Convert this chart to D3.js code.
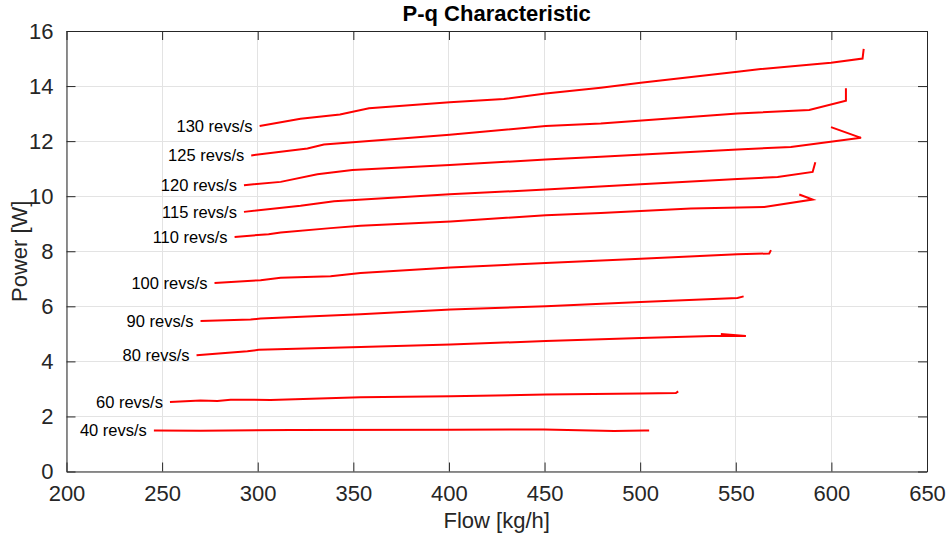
<!DOCTYPE html>
<html>
<head>
<meta charset="utf-8">
<script src="https://cdn.jsdelivr.net/npm/d3@7"></script>
<style>
html,body{margin:0;padding:0;background:#fff;}
svg{display:block;font-family:"Liberation Sans",Arial,Helvetica,sans-serif;}
</style>
</head>
<body>
<svg id="chart" width="951" height="538"></svg>
<script>
// ---- data ----
const xTicks = [200,250,300,350,400,450,500,550,600,650];
const yTicks = [0,2,4,6,8,10,12,14,16];
const seriesLabels = ["40 revs/s","60 revs/s","80 revs/s","90 revs/s","100 revs/s","110 revs/s","115 revs/s","120 revs/s","125 revs/s","130 revs/s"];

const flow40  = [245.7,270.1,317.2,400.9,449.7,486.4,502.1,504.7];
const power40 = [1.49,1.48,1.51,1.52,1.53,1.47,1.49,1.49];

const flow60  = [254.1,270.1,278.9,285.8,306.7,353.8,400.9,450.6,500.3,518.7,519.9];
const power60 = [2.52,2.58,2.56,2.61,2.60,2.70,2.73,2.80,2.83,2.85,2.91];

const flow80  = [268.0,294.6,300.5,353.8,400.9,450.6,500.3,542.2,555.3,542.2];
const power80 = [4.22,4.37,4.42,4.52,4.61,4.74,4.85,4.93,4.92,4.99];

const flow90  = [270.1,296.3,301.5,353.8,400.9,450.6,500.3,550.9,554.1];
const power90 = [5.47,5.52,5.56,5.71,5.88,6.00,6.16,6.30,6.36];

const flow100  = [277.4,301.5,312.0,338.1,353.8,400.9,450.6,500.3,550.9,567.5,568.4];
const power100 = [6.85,6.95,7.04,7.09,7.21,7.41,7.57,7.73,7.89,7.92,8.04];

const flow110  = [287.9,305.7,312.0,338.1,353.8,400.9,450.6,479.4,526.5,564.9,590.2,583.2];
const power110 = [8.52,8.62,8.68,8.84,8.93,9.08,9.31,9.39,9.55,9.61,9.88,10.06];

const flow115  = [292.8,322.4,339.9,400.4,450.6,500.3,550.9,571.9,590.2,591.6];
const power115 = [9.43,9.65,9.82,10.07,10.24,10.43,10.62,10.70,10.88,11.23];

const flow120  = [292.8,312.0,331.2,349.5,400.4,450.6,479.4,550.9,578.8,615.5,599.8];
const power120 = [10.40,10.52,10.80,10.95,11.13,11.33,11.43,11.70,11.79,12.12,12.51];

const flow125  = [296.6,326.0,334.6,400.4,450.6,479.4,550.9,588.4,607.6,607.6];
const power125 = [11.48,11.73,11.88,12.23,12.55,12.64,13.00,13.13,13.47,13.92];

const flow130  = [301.0,322.4,343.0,358.2,400.4,428.7,450.6,479.4,500.3,550.9,563.1,599.8,616.3,616.9];
const power130 = [12.55,12.81,12.97,13.19,13.41,13.53,13.73,13.94,14.12,14.52,14.62,14.85,15.00,15.35];

const flows  = [flow40,flow60,flow80,flow90,flow100,flow110,flow115,flow120,flow125,flow130];
const powers = [power40,power60,power80,power90,power100,power110,power115,power120,power125,power130];

// ---- layout ----
const svg = d3.select("#chart");
const L = 66.5, R = 927, T = 31, B = 471.5;
const x = d3.scaleLinear().domain([200,650]).range([L,R]);
const y = d3.scaleLinear().domain([0,16]).range([B,T]);
const axisColor = "#262626";
const fontFam = "'Liberation Sans',Arial,Helvetica,sans-serif";

// grid
const grid = svg.append("g");
grid.selectAll("line.gx").data(xTicks).join("line")
  .attr("x1",d=>x(d)).attr("x2",d=>x(d)).attr("y1",T).attr("y2",B)
  .attr("stroke","#e3e3e3").attr("stroke-width",1).attr("shape-rendering","crispEdges");
grid.selectAll("line.gy").data(yTicks).join("line")
  .attr("y1",d=>y(d)).attr("y2",d=>y(d)).attr("x1",L).attr("x2",R)
  .attr("stroke","#e3e3e3").attr("stroke-width",1).attr("shape-rendering","crispEdges");

// axes (ticks inward)
const tl = 9;
const xAxisB = d3.axisBottom(x).tickValues(xTicks).tickSizeInner(-tl).tickSizeOuter(0).tickPadding(14);
const xAxisT = d3.axisTop(x).tickValues(xTicks).tickSizeInner(-tl).tickSizeOuter(0).tickFormat("");
const yAxisL = d3.axisLeft(y).tickValues(yTicks).tickSizeInner(-tl).tickSizeOuter(0).tickPadding(13);
const yAxisR = d3.axisRight(y).tickValues(yTicks).tickSizeInner(-tl).tickSizeOuter(0).tickFormat("");

function styleAxis(g){
  g.select(".domain").attr("stroke",axisColor).attr("stroke-width",1);
  g.selectAll(".tick line").attr("stroke",axisColor);
  g.selectAll(".tick text").attr("fill",axisColor).style("font-size","22px")
    .style("font-family",fontFam);
}
svg.append("g").attr("transform",`translate(0,${B})`).call(xAxisB).call(styleAxis);
svg.append("g").attr("transform",`translate(0,${T})`).call(xAxisT).call(styleAxis);
svg.append("g").attr("transform",`translate(${L},0)`).call(yAxisL).call(styleAxis);
svg.append("g").attr("transform",`translate(${R},0)`).call(yAxisR).call(styleAxis);

// lines
const line = d3.line().x(d=>x(d[0])).y(d=>y(d[1]));
const series = flows.map((f,i)=>({label:seriesLabels[i], pts:f.map((v,j)=>[v,powers[i][j]])}));
svg.append("g").selectAll("path").data(series).join("path")
  .attr("d",d=>line(d.pts)).attr("fill","none").attr("stroke","#ff0000")
  .attr("stroke-width",2).attr("stroke-linejoin","miter");

// labels
svg.append("g").selectAll("text").data(series).join("text")
  .attr("x",d=>x(d.pts[0][0])-7).attr("y",d=>y(d.pts[0][1])+6)
  .attr("text-anchor","end")
  .attr("fill","#000").style("font-size","16.5px").style("font-family",fontFam).text(d=>d.label);

// title & axis labels
svg.append("text").attr("x",496.7).attr("y",20.7).attr("text-anchor","middle")
  .style("font-size","22px").style("font-weight","bold").style("font-family",fontFam)
  .attr("fill","#000").text("P-q Characteristic");
svg.append("text").attr("x",496.7).attr("y",527.5).attr("text-anchor","middle")
  .style("font-size","22px").style("font-family",fontFam).attr("fill",axisColor).text("Flow [kg/h]");
svg.append("text").attr("transform",`translate(27,${(T+B)/2}) rotate(-90)`).attr("text-anchor","middle")
  .style("font-size","22px").style("font-family",fontFam).attr("fill",axisColor).text("Power [W]");
</script>
</body>
</html>
